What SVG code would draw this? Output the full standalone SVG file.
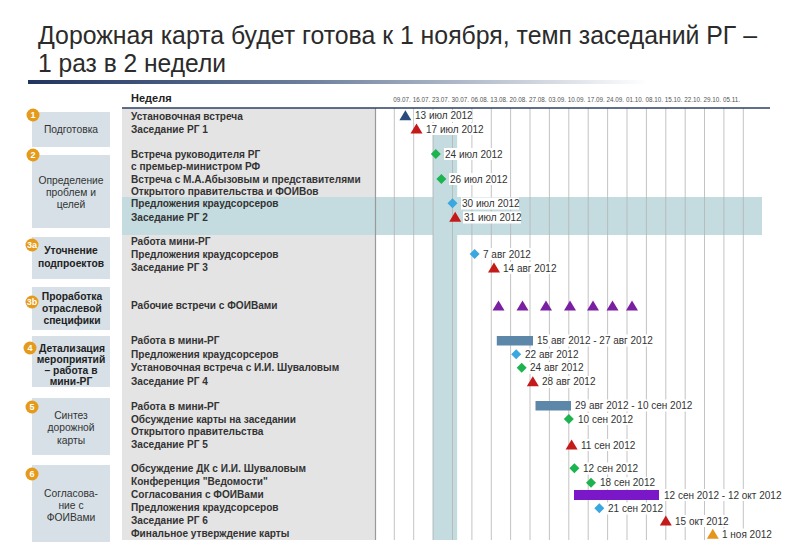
<svg xmlns="http://www.w3.org/2000/svg" width="800" height="554" viewBox="0 0 800 554">
<defs>
<linearGradient id="tbar" x1="0" y1="0" x2="1" y2="0">
<stop offset="0" stop-color="#1f3560"/>
<stop offset="0.45" stop-color="#6d7f9c"/>
<stop offset="1" stop-color="#ffffff"/>
</linearGradient>
<path id="tri" d="M0,-5.5 L6,4.5 L-6,4.5 Z"/>
<path id="dia" d="M0,-5 L5,0 L0,5 L-5,0 Z"/>
</defs>
<style>
text{font-family:"Liberation Sans",Arial,sans-serif;}
.title{font-size:25px;fill:#2b2b2b;}
.box{fill:#d6e0e6;}
.btxt{font-size:10.3px;fill:#333;text-anchor:middle;}
.bb{font-weight:bold;fill:#222;}
.badge{fill:#e69a1a;}
.bnum{font-size:9px;font-weight:bold;fill:#fff;text-anchor:middle;}
.task{font-size:10.1px;font-weight:bold;fill:#333;}
.lbl{font-size:10px;fill:#333;}
.lbg{fill:#fff;}
.grid{stroke:#b4b4b4;stroke-width:0.8;}
.date{font-size:6.3px;fill:#555;}
.navy{fill:#2c4a7c;}.red{fill:#c41a1a;}.green{fill:#1db34f;}.blue{fill:#3ba7e0;}.purple{fill:#7b1fa2;}.orange{fill:#e5951e;}
</style>
<rect width="800" height="554" fill="#fff"/>
<text class="title" x="38" y="44" textLength="719" lengthAdjust="spacingAndGlyphs">Дорожная карта будет готова к 1 ноября, темп заседаний РГ –</text>
<text class="title" x="38" y="72" textLength="188" lengthAdjust="spacingAndGlyphs">1 раз в 2 недели</text>
<rect x="28" y="80" width="620" height="4" fill="url(#tbar)"/>

<g id="chart-bg">
<rect x="122" y="108" width="254" height="432" fill="#e4e4e4"/>
<rect x="122" y="197" width="640" height="38" fill="#c4dcdf"/>
<rect x="432.7" y="133" width="24.5" height="407" fill="#c4dcdf"/>
<line x1="375.5" y1="108" x2="375.5" y2="540" stroke="#9a9a9a" stroke-width="1.2"/>
</g>

<g id="grid">
<line class="grid" x1="394.3" y1="108" x2="394.3" y2="540"/>
<line class="grid" x1="413.7" y1="108" x2="413.7" y2="540"/>
<line class="grid" x1="433.1" y1="108" x2="433.1" y2="540"/>
<line class="grid" x1="452.5" y1="108" x2="452.5" y2="540" stroke="#93b3b8"/>
<line class="grid" x1="471.9" y1="108" x2="471.9" y2="540"/>
<line class="grid" x1="491.3" y1="108" x2="491.3" y2="540"/>
<line class="grid" x1="510.6" y1="108" x2="510.6" y2="540"/>
<line class="grid" x1="530.0" y1="108" x2="530.0" y2="540"/>
<line class="grid" x1="549.4" y1="108" x2="549.4" y2="540"/>
<line class="grid" x1="568.8" y1="108" x2="568.8" y2="540"/>
<line class="grid" x1="588.2" y1="108" x2="588.2" y2="540"/>
<line class="grid" x1="607.6" y1="108" x2="607.6" y2="540"/>
<line class="grid" x1="627.0" y1="108" x2="627.0" y2="540"/>
<line class="grid" x1="646.4" y1="108" x2="646.4" y2="540"/>
<line class="grid" x1="665.8" y1="108" x2="665.8" y2="540"/>
<line class="grid" x1="685.2" y1="108" x2="685.2" y2="540"/>
<line class="grid" x1="704.5" y1="108" x2="704.5" y2="540"/>
<line class="grid" x1="723.9" y1="108" x2="723.9" y2="540"/>
<line class="grid" x1="743.3" y1="108" x2="743.3" y2="540"/>
</g>

<g id="header">
<text x="131" y="102" font-size="11" font-weight="bold" fill="#222">Неделя</text>
<text class="date" y="102"><tspan x="393.3">09.07.</tspan><tspan x="412.7">16.07.</tspan><tspan x="432.1">23.07.</tspan><tspan x="451.5">30.07.</tspan><tspan x="470.9">06.08.</tspan><tspan x="490.3">13.08.</tspan><tspan x="509.6">20.08.</tspan><tspan x="529.0">27.08.</tspan><tspan x="548.4">03.09.</tspan><tspan x="567.8">10.09.</tspan><tspan x="587.2">17.09.</tspan><tspan x="606.6">24.09.</tspan><tspan x="626.0">01.10.</tspan><tspan x="645.4">08.10.</tspan><tspan x="664.8">15.10.</tspan><tspan x="684.2">22.10.</tspan><tspan x="703.5">29.10.</tspan><tspan x="722.9">05.11.</tspan></text>
<line x1="122" y1="108" x2="770" y2="108" stroke="#2d4060" stroke-width="1.5"/>
</g>

<g id="stage1">
<rect class="box" x="32" y="112" width="78" height="35"/>
<text class="btxt" x="71" y="133">Подготовка</text>
<circle class="badge" cx="33" cy="115" r="6.5"/><text class="bnum" x="33" y="118.2">1</text>
</g>
<g id="stage2">
<rect class="box" x="32" y="155" width="78" height="73"/>
<text class="btxt" x="71" y="184">Определение</text>
<text class="btxt" x="71" y="196">проблем и</text>
<text class="btxt" x="71" y="208">целей</text>
<circle class="badge" cx="33" cy="155" r="6.5"/><text class="bnum" x="33" y="158.2">2</text>
</g>
<g id="stage3a">
<rect class="box" x="32" y="237" width="78" height="42"/>
<text class="btxt bb" x="71" y="254">Уточнение</text>
<text class="btxt bb" x="71" y="267">подпроектов</text>
<circle class="badge" cx="32" cy="245" r="6.5"/><text class="bnum" x="32" y="248" font-size="8">3a</text>
</g>
<g id="stage3b">
<rect class="box" x="32" y="287" width="78" height="43"/>
<text class="btxt bb" x="72" y="300">Проработка</text>
<text class="btxt bb" x="72" y="312">отраслевой</text>
<text class="btxt bb" x="72" y="324">специфики</text>
<circle class="badge" cx="32" cy="302" r="6.5"/><text class="bnum" x="32" y="305" font-size="8">3b</text>
</g>
<g id="stage4">
<rect class="box" x="32" y="336" width="78" height="51"/>
<text class="btxt bb" x="72" y="352">Детализация</text>
<text class="btxt bb" x="71" y="363">мероприятий</text>
<text class="btxt bb" x="71" y="374">– работа в</text>
<text class="btxt bb" x="71" y="385">мини-РГ</text>
<circle class="badge" cx="30" cy="348" r="6.5"/><text class="bnum" x="30" y="351.2">4</text>
</g>
<g id="stage5">
<rect class="box" x="32" y="398" width="78" height="57"/>
<text class="btxt" x="71" y="419">Синтез</text>
<text class="btxt" x="71" y="431">дорожной</text>
<text class="btxt" x="71" y="444">карты</text>
<circle class="badge" cx="32" cy="407" r="6.5"/><text class="bnum" x="32" y="410.2">5</text>
</g>
<g id="stage6">
<rect class="box" x="32" y="465" width="78" height="77"/>
<text class="btxt" x="71" y="497">Согласова-</text>
<text class="btxt" x="71" y="509">ние с</text>
<text class="btxt" x="71" y="521">ФОИВами</text>
<circle class="badge" cx="32" cy="474" r="6.5"/><text class="bnum" x="32" y="477.2">6</text>
</g>

<g id="tasks">
<text class="task" x="131" y="119.5">Установочная встреча</text>
<text class="task" x="131" y="133">Заседание РГ 1</text>
<text class="task" x="131" y="158">Встреча руководителя РГ</text>
<text class="task" x="131" y="170"> с премьер-министром РФ</text>
<text class="task" x="131" y="183">Встреча с М.А.Абызовым и представителями</text>
<text class="task" x="131" y="194.5">Открытого правительства и ФОИВов</text>
<text class="task" x="131" y="207">Предложения краудсорсеров</text>
<text class="task" x="131" y="220.5">Заседание РГ 2</text>
<text class="task" x="131" y="244.5">Работа мини-РГ</text>
<text class="task" x="131" y="257.5">Предложения краудсорсеров</text>
<text class="task" x="131" y="271">Заседание РГ 3</text>
<text class="task" x="131" y="308.5">Рабочие встречи с ФОИВами</text>
<text class="task" x="131" y="344">Работа в мини-РГ</text>
<text class="task" x="131" y="357.5">Предложения краудсорсеров</text>
<text class="task" x="131" y="371">Установочная встреча с И.И. Шуваловым</text>
<text class="task" x="131" y="384.5">Заседание РГ 4</text>
<text class="task" x="131" y="409.5">Работа в мини-РГ</text>
<text class="task" x="131" y="422.5">Обсуждение карты на заседании</text>
<text class="task" x="131" y="435">Открытого правительства</text>
<text class="task" x="131" y="448">Заседание РГ 5</text>
<text class="task" x="131" y="472">Обсуждение ДК с И.И. Шуваловым</text>
<text class="task" x="131" y="485">Конференция "Ведомости"</text>
<text class="task" x="131" y="497.5">Согласования с ФОИВами</text>
<text class="task" x="131" y="511">Предложения краудсорсеров</text>
<text class="task" x="131" y="524">Заседание РГ 6</text>
<text class="task" x="131" y="537">Финальное утверждение карты</text>
</g>

<g id="labels-bg">
<rect class="lbg" x="414" y="110" width="58" height="12"/>
<rect class="lbg" x="425" y="123" width="58" height="12"/>
<rect class="lbg" x="444" y="148" width="58" height="12"/>
<rect class="lbg" x="449" y="173" width="58" height="12"/>
<rect class="lbg" x="461" y="197.5" width="58" height="12"/>
<rect class="lbg" x="463" y="211.5" width="58" height="12"/>
<rect class="lbg" x="482" y="248" width="52" height="12"/>
<rect class="lbg" x="502" y="262" width="58" height="12"/>
<rect class="lbg" x="536" y="334.5" width="118" height="12"/>
<rect class="lbg" x="524" y="348.5" width="58" height="12"/>
<rect class="lbg" x="529" y="362" width="58" height="12"/>
<rect class="lbg" x="541" y="376" width="58" height="12"/>
<rect class="lbg" x="574" y="399.5" width="120" height="12"/>
<rect class="lbg" x="577" y="413" width="58" height="12"/>
<rect class="lbg" x="580" y="439" width="58" height="12"/>
<rect class="lbg" x="582" y="462.5" width="58" height="12"/>
<rect class="lbg" x="599" y="477" width="58" height="12"/>
<rect class="lbg" x="663" y="489" width="120" height="12"/>
<rect class="lbg" x="607" y="502.5" width="58" height="12"/>
<rect class="lbg" x="674" y="515" width="58" height="12"/>
<rect class="lbg" x="721" y="528.5" width="52" height="12"/>
</g>

<g id="markers">
<use href="#tri" class="navy" x="405.4" y="115.7"/>
<use href="#tri" class="red" x="416.5" y="129"/>
<use href="#dia" class="green" x="435.8" y="154"/>
<use href="#dia" class="green" x="441.4" y="179"/>
<use href="#dia" class="blue" x="452.5" y="203.3"/>
<use href="#tri" class="red" x="455.2" y="217.3"/>
<use href="#dia" class="blue" x="474.6" y="254"/>
<use href="#tri" class="red" x="494" y="268"/>
<use href="#tri" class="purple" x="498.5" y="306"/>
<use href="#tri" class="purple" x="522.5" y="306"/>
<use href="#tri" class="purple" x="546" y="306"/>
<use href="#tri" class="purple" x="570" y="306"/>
<use href="#tri" class="purple" x="593" y="306"/>
<use href="#tri" class="purple" x="612.5" y="306"/>
<use href="#tri" class="purple" x="632" y="306"/>
<rect x="496.8" y="336" width="36.2" height="9.5" fill="#5d87a8"/>
<use href="#dia" class="blue" x="516.2" y="354.3"/>
<use href="#dia" class="green" x="521.7" y="367.7"/>
<use href="#tri" class="red" x="532.8" y="381.7"/>
<rect x="535.5" y="401" width="35.5" height="9.5" fill="#5d87a8"/>
<use href="#dia" class="green" x="568.8" y="419"/>
<use href="#tri" class="red" x="571.6" y="445"/>
<use href="#dia" class="green" x="574.4" y="468.3"/>
<use href="#dia" class="green" x="591" y="482.7"/>
<rect x="574" y="490" width="85" height="10" fill="#7a17c8"/>
<use href="#dia" class="blue" x="599.3" y="508.3"/>
<use href="#tri" class="red" x="665.8" y="521"/>
<use href="#tri" class="orange" x="712.8" y="534.3"/>
</g>

<g id="labels">
<text class="lbl" x="415" y="119.2">13 июл 2012</text>
<text class="lbl" x="426" y="132.5">17 июл 2012</text>
<text class="lbl" x="445" y="157.5">24 июл 2012</text>
<text class="lbl" x="450" y="182.5">26 июл 2012</text>
<text class="lbl" x="462" y="206.8">30 июл 2012</text>
<text class="lbl" x="464" y="220.8">31 июл 2012</text>
<text class="lbl" x="483" y="257.5">7 авг 2012</text>
<text class="lbl" x="503" y="271.5">14 авг 2012</text>
<text class="lbl" x="537" y="344">15 авг 2012 - 27 авг 2012</text>
<text class="lbl" x="525" y="357.8">22 авг 2012</text>
<text class="lbl" x="530" y="371.2">24 авг 2012</text>
<text class="lbl" x="542" y="385.2">28 авг 2012</text>
<text class="lbl" x="575" y="409">29 авг 2012 - 10 сен 2012</text>
<text class="lbl" x="578" y="422.5">10 сен 2012</text>
<text class="lbl" x="581" y="448.5">11 сен 2012</text>
<text class="lbl" x="583" y="471.8">12 сен 2012</text>
<text class="lbl" x="600" y="486.2">18 сен 2012</text>
<text class="lbl" x="664" y="498.5">12 сен 2012 - 12 окт 2012</text>
<text class="lbl" x="608" y="511.8">21 сен 2012</text>
<text class="lbl" x="675" y="524.5">15 окт 2012</text>
<text class="lbl" x="722" y="537.8">1 ноя 2012</text>
</g>
</svg>
